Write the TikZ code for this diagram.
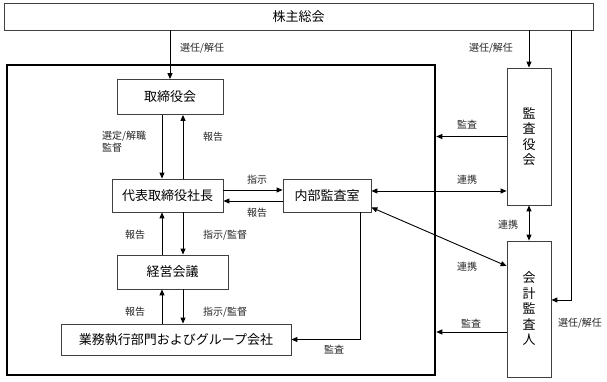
\documentclass[tikz,border=0pt]{standalone}
\usepackage{fontspec}
\setmainfont{Noto Sans CJK JP}
\usetikzlibrary{arrows.meta}
\begin{document}
\begin{tikzpicture}[x=1pt,y=-1pt,
  box/.style={draw=black!75, line width=0.8pt, fill=white, inner sep=0pt, font=\fontsize{13}{15.5}\selectfont},
  lab/.style={font=\fontsize{10}{12}\selectfont, inner sep=0pt, text=black!85},
  arr/.style={-{Triangle[length=6pt,width=5pt]}, line width=0.9pt},
  arrb/.style={{Triangle[length=6pt,width=5pt]}-{Triangle[length=6pt,width=5pt]}, line width=0.9pt}]
\useasboundingbox[fill=white] (0,0) rectangle (607,382);

% frame
\node[draw, line width=2.5pt, minimum width=428pt, minimum height=310pt, inner sep=0pt] (frame) at (221,220) {};

% boxes
\node[box, minimum width=589pt, minimum height=27pt] (top) at (298.5,16.5) {株主総会};
\node[box, minimum width=106pt, minimum height=35pt] (tor) at (170,97) {取締役会};
\node[box, minimum width=111pt, minimum height=33pt] (pres) at (167.5,195.5) {代表取締役社長};
\node[box, minimum width=88pt, minimum height=33pt] (naibu) at (327,195.5) {内部監査室};
\node[box, minimum width=111pt, minimum height=34pt] (keiei) at (172.5,272) {経営会議};
\node[box, minimum width=230pt, minimum height=31pt] (gyomu) at (176,339.5) {業務執行部門およびグループ会社};
\node[box, minimum width=44pt, minimum height=137pt, align=center] (ks) at (529,136.5) {監\\査\\役\\会};
\node[box, minimum width=44pt, minimum height=136pt, align=center] (kk) at (529,309) {会\\計\\監\\査\\人};

\coordinate (cL) at (162,0);
\coordinate (cR) at (183,0);
\coordinate (cA) at (360,0);
\coordinate (cX) at (571,0);

% left column
\draw[arr] (top.south -| tor.north) -- (tor.north);
\draw[arr] (tor.south -| cL) -- (pres.north -| cL);
\draw[arr] (pres.north -| cR) -- (tor.south -| cR);
\draw[arr] (keiei.north -| cL) -- (pres.south -| cL);
\draw[arr] (pres.south -| cR) -- (keiei.north -| cR);
\draw[arr] (gyomu.north -| cL) -- (keiei.south -| cL);
\draw[arr] (keiei.south -| cR) -- (gyomu.north -| cR);

\draw[arr] ([yshift=5.5pt]pres.east) -- ([yshift=5.5pt]naibu.west);
\draw[arr] ([yshift=-5.5pt]naibu.west) -- ([yshift=-5.5pt]pres.east);
\draw[arr] (naibu.south -| cA) |- (gyomu.east);

% right side
\draw[arr] (top.south -| ks.north) -- (ks.north);
\draw[arr] (top.south -| cX) |- ([yshift=9pt]kk.east);
\draw[arr] (ks.west) -- (ks.west -| frame.east);
\draw[arrb] ([yshift=4.5pt]naibu.east) -- ([yshift=4.5pt]naibu.east -| ks.west);
\draw[arrb] (ks.south) -- (kk.north);
\draw[arrb] ([yshift=5pt]naibu.south east) -- ([yshift=43pt]kk.west);
\draw[arr] ([yshift=-23pt]kk.west) -- ([yshift=-23pt]kk.west -| frame.east);

% labels
\node[lab, anchor=west] (l1) at (180,48) {選任/解任};
\node[lab] (l2) at (491,48) {選任/解任};
\node[lab, anchor=west, align=left] (l3) at (102,141.5) {選定/解職\\監督};
\node[lab, anchor=west] (l4) at (203,137) {報告};
\node[lab] (l5) at (257,180) {指示};
\node[lab] (l6) at (257,213) {報告};
\node[lab] (l7) at (135,235) {報告};
\node[lab, anchor=west] (l8) at (203,235) {指示/監督};
\node[lab] (l9) at (135,312) {報告};
\node[lab, anchor=west] (l10) at (203,312) {指示/監督};
\node[lab] (l11) at (334,350) {監査};
\node[lab] (l12) at (467,125) {監査};
\node[lab] (l13) at (467,180) {連携};
\node[lab] (l14) at (508,225) {連携};
\node[lab] (l15) at (467,267) {連携};
\node[lab] (l16) at (471,324) {監査};
\node[lab] (l17) at (580,323) {選任/解任};
\end{tikzpicture}
\end{document}
